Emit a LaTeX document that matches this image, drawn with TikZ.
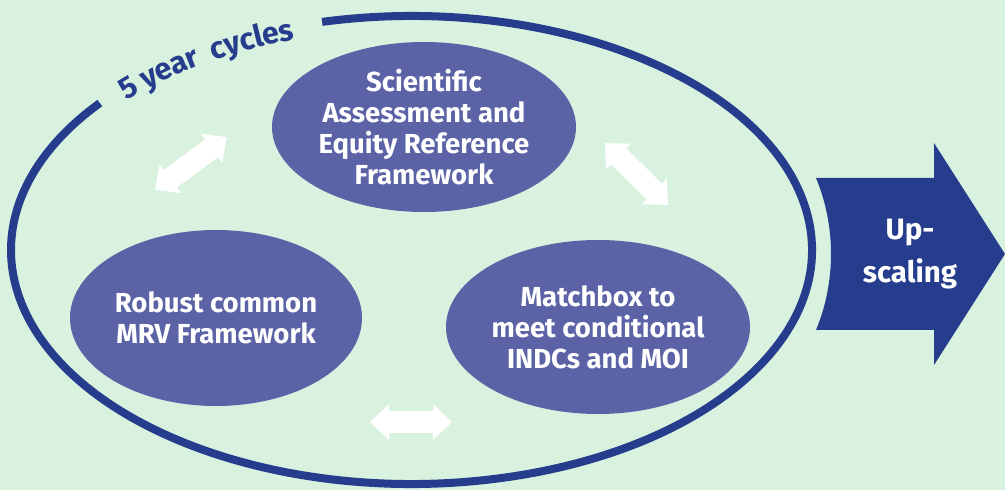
\documentclass[tikz,border=0pt]{standalone}
\usepackage{fontspec}
\setmainfont{Fira Sans}
\usetikzlibrary{shapes.geometric,decorations.text}
\definecolor{bgc}{HTML}{D9F1DF}
\definecolor{dblue}{HTML}{253D8C}
\definecolor{blobc}{HTML}{5B63A6}
\tikzset{
  blob/.style={ellipse, fill=blobc, inner sep=0pt, text=white,
    font=\fontsize{27.5}{31}\selectfont\bfseries, align=center},
  pics/dblarr/.style={code={
    \fill[white] ({-#1},0) -- ({-#1+19},18) -- ({-#1+19},11) -- ({#1-19},11) -- ({#1-19},18)
      -- ({#1},0) -- ({#1-19},-18) -- ({#1-19},-11) -- ({-#1+19},-11) -- ({-#1+19},-18) -- cycle;}}
}
\begin{document}
\begin{tikzpicture}[x=1pt,y=1pt]
\fill[bgc] (0,0) rectangle (1005,490);
\useasboundingbox (0,0) rectangle (1005,490);
% big cycle
\coordinate (C) at (411.5,240);
\draw[dblue, line width=8pt] (C) ++(102.9:400.5pt and 234pt)
  arc[start angle=102.9, end angle=-218.9, x radius=400.5pt, y radius=234pt];
\path[decorate, decoration={text along path, text align=center, raise=-13pt,
  text={|\fontsize{30.5}{30}\selectfont\bfseries\color{dblue}|5 year {\ }cycles}}]
  (C) ++(142:400.5pt and 234pt)
  arc[start angle=142, end angle=103, x radius=400.5pt, y radius=234pt];
% blobs
\node[blob, minimum width=304pt, minimum height=170pt] (sci) at (424,363)
  {Scientific\\Assessment and\\Equity Reference\\Framework};
\node[blob, minimum width=292pt, minimum height=176pt] (mrv) at (216,172)
  {Robust common\\MRV Framework};
\node[blob, minimum width=304pt, minimum height=174pt] (match) at (598,163)
  {Matchbox to\\meet conditional\\INDCs and MOI};
% white double arrows
\pic[rotate=36.4] at (191,326.5) {dblarr=44.5};
\pic[rotate=-44.5] at (636.5,316) {dblarr=44};
\pic at (411,68) {dblarr=41};
% upscaling arrow
\fill[dblue] (816,312) -- (934,312) -- (934,347) -- (1005,236) -- (934,125)
  -- (934,160) -- (816,160) .. controls (836,208) and (836,264) .. cycle;
\node[font=\fontsize{29.5}{43}\selectfont\bfseries, text=white, align=center]
  (up) at (910,236) {Up-\\scaling};
\end{tikzpicture}
\end{document}
